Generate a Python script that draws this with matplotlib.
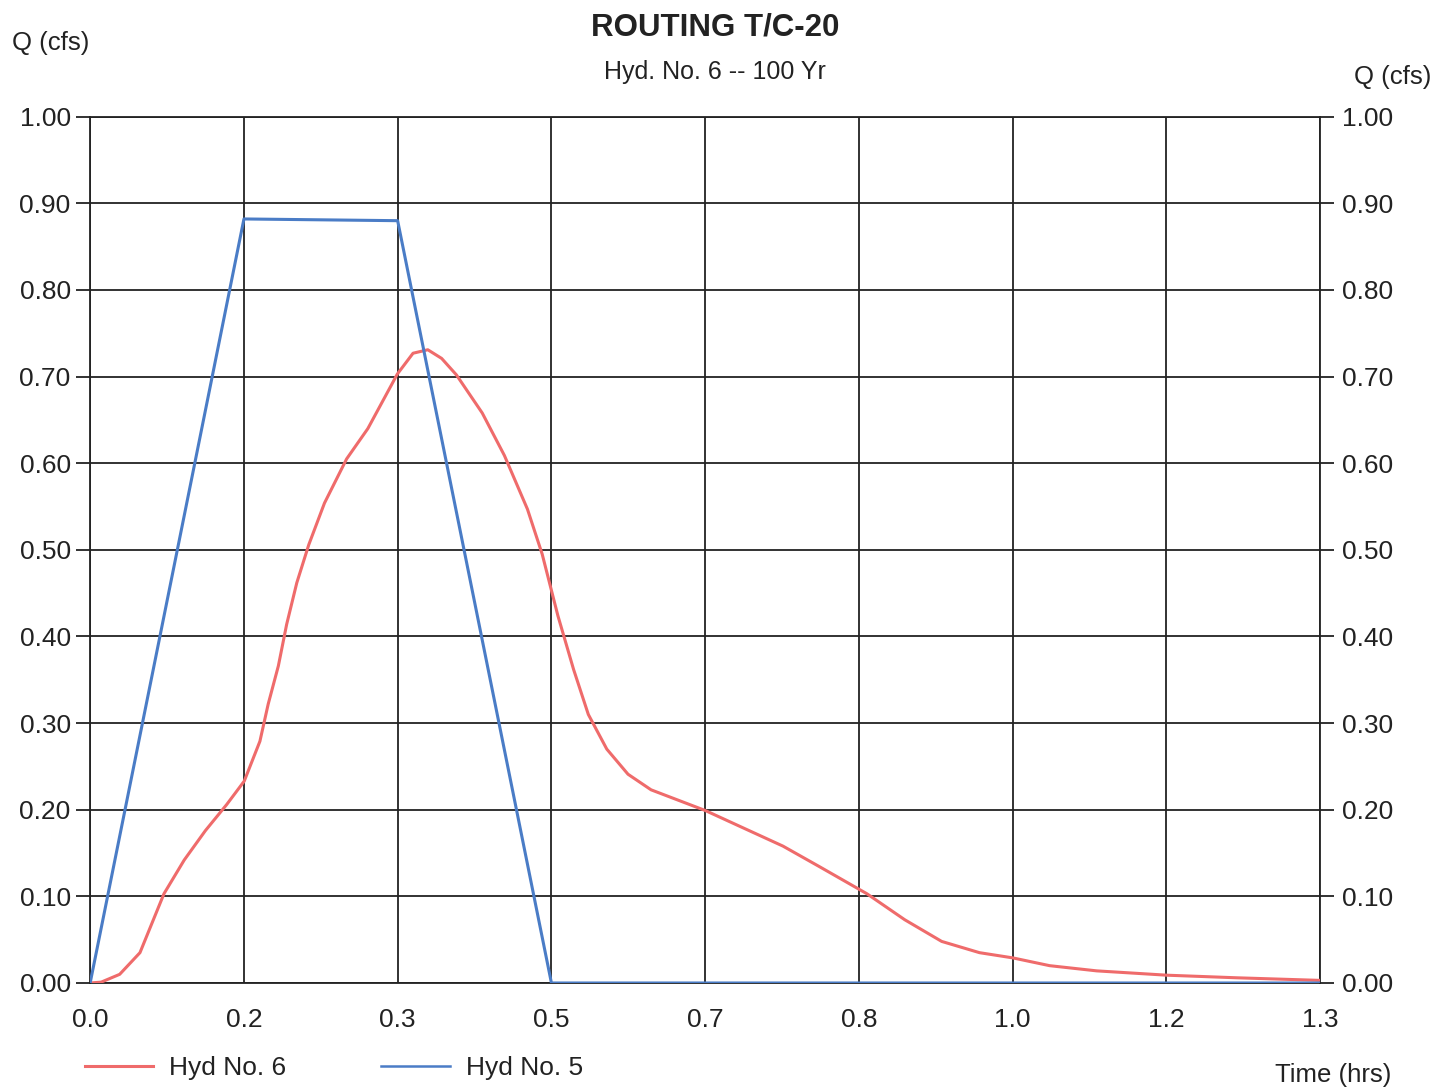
import matplotlib
matplotlib.use("Agg")
import matplotlib.pyplot as plt
from matplotlib.lines import Line2D

plt.rcParams['font.family'] = ['Liberation Sans', 'DejaVu Sans']

# Data
hyd5_t = [0.0, 0.1667, 0.3333, 0.5, 1.3333]
hyd5_q = [0.0, 0.882, 0.880, 0.0, 0.0]

hyd6_t = [0.0, 0.012, 0.032, 0.054, 0.080, 0.102, 0.125, 0.148, 0.167, 0.184,
          0.193, 0.204, 0.213, 0.224, 0.237, 0.254, 0.278, 0.301, 0.333, 0.350,
          0.366, 0.381, 0.397, 0.425, 0.449, 0.474, 0.490, 0.507, 0.524, 0.540,
          0.560, 0.583, 0.608, 0.667, 0.710, 0.751, 0.791, 0.842, 0.883, 0.923,
          0.964, 1.0, 1.04, 1.091, 1.167, 1.243, 1.3333]
hyd6_q = [0.0, 0.001, 0.010, 0.035, 0.103, 0.142, 0.176, 0.206, 0.233, 0.279,
          0.322, 0.366, 0.414, 0.462, 0.506, 0.554, 0.605, 0.640, 0.703, 0.727,
          0.731, 0.721, 0.702, 0.658, 0.609, 0.547, 0.495, 0.424, 0.362, 0.310,
          0.270, 0.241, 0.223, 0.199, 0.178, 0.158, 0.134, 0.103, 0.073, 0.048,
          0.035, 0.029, 0.020, 0.014, 0.009, 0.006, 0.003]

x_ticks = [0.0, 1/6, 2/6, 3/6, 4/6, 5/6, 1.0, 7/6, 8/6]
x_labels = ['0.0', '0.2', '0.3', '0.5', '0.7', '0.8', '1.0', '1.2', '1.3']
y_ticks = [0.0, 0.1, 0.2, 0.3, 0.4, 0.5, 0.6, 0.7, 0.8, 0.9, 1.0]

red = '#ef6b6b'
blue = '#4a7cc6'
ink = '#222222'

fig = plt.figure(figsize=(14.54, 10.91), dpi=100)
ax = fig.add_axes([0.062, 0.099, 0.846, 0.794])
ax.plot(hyd6_t, hyd6_q, color=red, lw=2.2, zorder=3)
ax.plot(hyd5_t, hyd5_q, color=blue, lw=2.2, zorder=3)

ax.set_xlim(0, 8/6)
ax.set_ylim(0, 1.0)
ax.set_xticks(x_ticks)
ax.set_xticklabels(x_labels)
ax.set_yticks(y_ticks)
ax.set_yticklabels([f'{v:.2f}' for v in y_ticks])
ax.grid(True, color=ink, lw=1.3)
for s in ax.spines.values():
    s.set_color(ink)
    s.set_linewidth(1.3)
ax.tick_params(axis='x', length=0, pad=18, labelsize=19, colors=ink)
ax.tick_params(axis='y', length=10, width=1.3, pad=4, labelsize=19, colors=ink)

ax2 = ax.twinx()
ax2.set_ylim(0, 1.0)
ax2.set_yticks(y_ticks)
ax2.set_yticklabels([f'{v:.2f}' for v in y_ticks])
ax2.tick_params(axis='y', length=10, width=1.3, pad=6, labelsize=19, colors=ink)
for s in ax2.spines.values():
    s.set_visible(False)

fig.text(0.492, 0.975, 'ROUTING T/C-20', ha='center', va='center', fontsize=22.5,
         fontweight='bold', color=ink)
fig.text(0.492, 0.934, 'Hyd. No. 6 -- 100 Yr', ha='center', va='center', fontsize=18,
         color=ink)
fig.text(0.035, 0.961, 'Q (cfs)', ha='center', va='center', fontsize=18.5, color=ink)
fig.text(0.958, 0.929, 'Q (cfs)', ha='center', va='center', fontsize=18.5, color=ink)
fig.text(0.917, 0.015, 'Time (hrs)', ha='center', va='center', fontsize=18.5, color=ink)

handles = [Line2D([], [], color=red, lw=2.2), Line2D([], [], color=blue, lw=1.8)]
fig.legend(handles, ['Hyd No. 6', 'Hyd No. 5'], loc='lower left',
           bbox_to_anchor=(0.042, -0.012), ncol=2, frameon=False, fontsize=19,
           handlelength=2.6, handletextpad=0.6, columnspacing=3.6, labelcolor=ink)

fig.savefig('out.png', dpi=100, facecolor='white')
